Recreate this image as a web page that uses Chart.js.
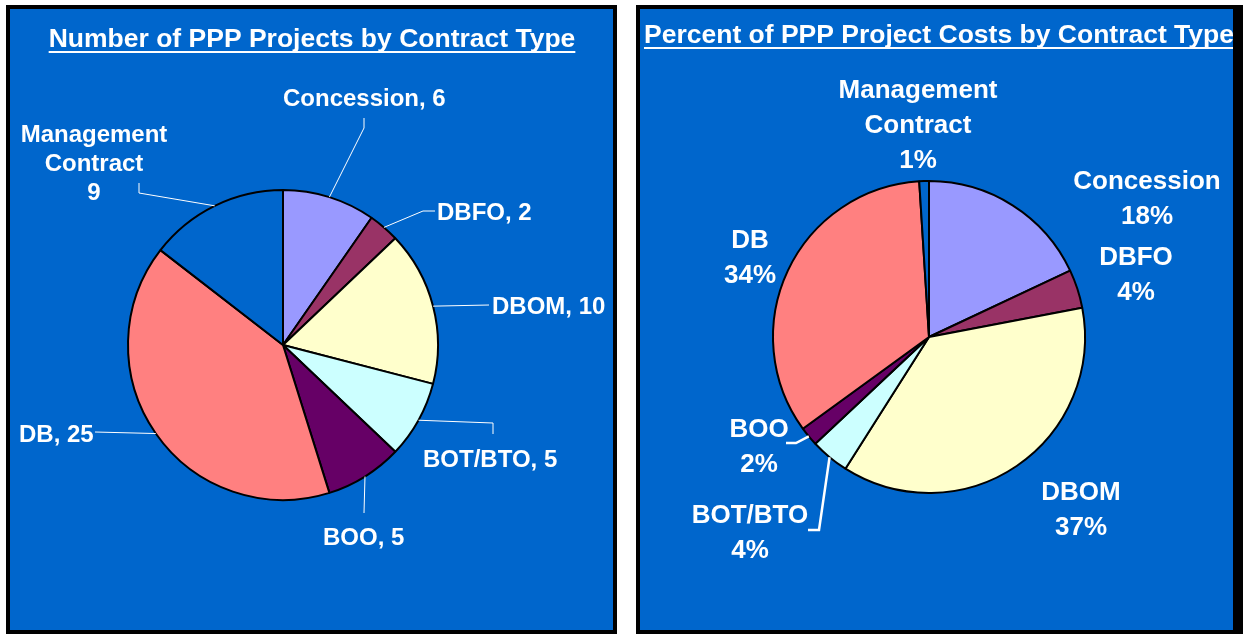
<!DOCTYPE html>
<html>
<head>
<meta charset="utf-8">
<script src="https://cdn.jsdelivr.net/npm/chart.js@4.4.0/dist/chart.umd.min.js"></script>
<style>
body { margin:0; background:#fff; width:1243px; height:634px; overflow:hidden; position:relative; }
.panel { position:absolute; background:#0066cc; border:4px solid #000; box-sizing:border-box; top:5px; height:629px; }
#leftPanel { left:6px; width:611px; }
#rightPanel { left:636px; width:607px; border-right-width:10px; }
canvas { position:absolute; left:0; top:0; }
</style>
</head>
<body>
<div class="panel" id="leftPanel"><canvas id="countChart" width="603" height="621"></canvas></div>
<div class="panel" id="rightPanel"><canvas id="costChart" width="593" height="621"></canvas></div>
<script>
// data
const categories = ['Concession', 'DBFO', 'DBOM', 'BOT/BTO', 'BOO', 'DB', 'Management Contract'];
const projectCounts = [6, 2, 10, 5, 5, 25, 9];
const costPercents = [18, 4, 37, 4, 2, 34, 1];
const sliceColors = ['#9999FF', '#993366', '#FFFFCC', '#CCFFFF', '#660066', '#FF8080', '#0066CC'];

const FONT = '"Liberation Sans", Arial, sans-serif';

// label text
const countLabels = categories.map((c, i) =>
	c === 'Management Contract' ? ['Management', 'Contract', String(projectCounts[i])] : [c + ', ' + projectCounts[i]]);
const costLabels = categories.map((c, i) => c.split(' ').concat([costPercents[i] + '%']));

// where labels sit (page coordinates), leader elbows start from the slice edge
const countPlaces = [
	{x: 283, y: 106, align: 'left', leader: [[364, 128], [364, 118]]},
	{x: 437, y: 220, align: 'left', leader: [[423, 211], [435, 211]]},
	{x: 492, y: 314, align: 'left', leader: [[489, 305]]},
	{x: 423, y: 467, align: 'left', leader: [[493, 423], [493, 434]]},
	{x: 323, y: 545, align: 'left', leader: [[364, 513]]},
	{x: 19, y: 442, align: 'left', leader: [[95, 432]]},
	{x: 94, y: 142, align: 'center', leader: [[139, 193], [139, 183]]}
];
const costPlaces = [
	{x: 1147, y: 189, align: 'center'},
	{x: 1136, y: 265, align: 'center'},
	{x: 1081, y: 500, align: 'center'},
	{x: 750, y: 523, align: 'center', leader: [[819, 530], [808, 530]]},
	{x: 759, y: 437, align: 'center', leader: [[796, 443], [786, 443]]},
	{x: 750, y: 248, align: 'center'},
	{x: 918, y: 98, align: 'center'}
];

const pieLabels = {
	id: 'pieLabels',
	afterDatasetsDraw(chart, args, opts) {
		const ctx = chart.ctx;
		const ox = opts.origin[0], oy = opts.origin[1];
		ctx.save();
		// title with underline
		ctx.font = 'bold 26.5px ' + FONT;
		ctx.fillStyle = '#fff';
		ctx.textAlign = 'center';
		ctx.textBaseline = 'alphabetic';
		const tx = opts.title.x - ox, ty = opts.title.y - oy;
		ctx.fillText(opts.title.text, tx, ty);
		const tw = ctx.measureText(opts.title.text).width;
		ctx.fillRect(tx - tw / 2, ty + 4, tw, 2);

		const meta = chart.getDatasetMeta(0);
		ctx.font = 'bold ' + opts.size + 'px ' + FONT;
		ctx.strokeStyle = '#fff';
		ctx.lineWidth = opts.leaderWidth;
		meta.data.forEach((arc, i) => {
			const place = opts.places[i];
			if (place.leader) {
				const mid = (arc.startAngle + arc.endAngle) / 2;
				ctx.beginPath();
				ctx.moveTo(arc.x + Math.cos(mid) * arc.outerRadius, arc.y + Math.sin(mid) * arc.outerRadius);
				place.leader.forEach(p => ctx.lineTo(p[0] - ox, p[1] - oy));
				ctx.stroke();
			}
			ctx.textAlign = place.align;
			opts.texts[i].forEach((line, k) => {
				ctx.fillText(line, place.x - ox, place.y - oy + k * opts.lineHeight);
			});
		});
		ctx.restore();
	}
};

function makePie(canvasId, values, origin, center, radius, extra) {
	const cv = document.getElementById(canvasId);
	const cx = center[0] - origin[0], cy = center[1] - origin[1];
	const W = cv.width, H = cv.height;
	const padding = {
		left: Math.max(0, 2 * cx - W), right: Math.max(0, W - 2 * cx),
		top: Math.max(0, 2 * cy - H), bottom: Math.max(0, H - 2 * cy)
	};
	return new Chart(cv, {
		type: 'pie',
		data: {
			labels: categories,
			datasets: [{
				data: values,
				backgroundColor: sliceColors,
				borderColor: '#000',
				borderWidth: 2,
				radius: radius
			}]
		},
		options: {
			responsive: false,
			animation: false,
			layout: {padding: padding},
			plugins: {
				legend: {display: false},
				tooltip: {enabled: false},
				pieLabels: Object.assign({origin: origin}, extra)
			}
		},
		plugins: [pieLabels]
	});
}

makePie('countChart', projectCounts, [10, 9], [283, 345], 155, {
	title: {text: 'Number of PPP Projects by Contract Type', x: 312, y: 47},
	texts: countLabels, places: countPlaces, size: 24, lineHeight: 29, leaderWidth: 1
});

makePie('costChart', costPercents, [640, 9], [929, 337], 156, {
	title: {text: 'Percent of PPP Project Costs by Contract Type', x: 939, y: 43},
	texts: costLabels, places: costPlaces, size: 26, lineHeight: 35, leaderWidth: 2.5
});
</script>
</body>
</html>
